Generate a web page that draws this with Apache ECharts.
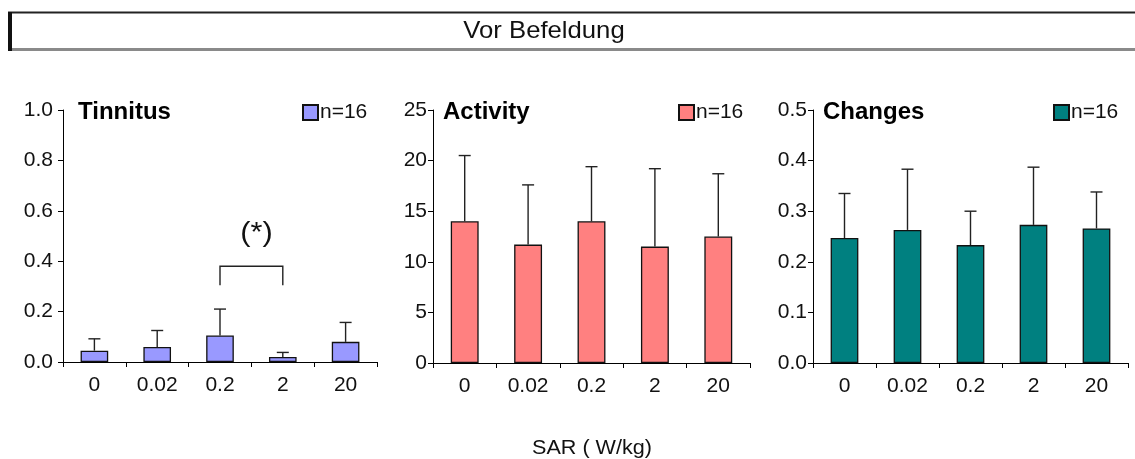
<!DOCTYPE html>
<html>
<head>
<meta charset="utf-8">
<script src="https://cdn.jsdelivr.net/npm/echarts@6/dist/echarts.min.js"></script>
<style>
  html, body { margin: 0; padding: 0; background: #fff; }
  #chart { width: 1135px; height: 459px; }
</style>
</head>
<body>
<div id="chart"></div>
<script>
// SAR exposure levels (W/kg)
const sarLevels = ['0', '0.02', '0.2', '2', '20'];

// Mean values and upper error bar ends (mean + SD), n = 16
const tinnitusMean  = [0.045, 0.06, 0.105, 0.02, 0.08];
const tinnitusUpper = [0.092, 0.125, 0.21, 0.038, 0.157];

const activityMean  = [14.0, 11.7, 14.0, 11.5, 12.5];
const activityUpper = [20.5, 17.6, 19.4, 19.2, 18.7];

const changesMean   = [0.247, 0.263, 0.233, 0.273, 0.266];
const changesUpper  = [0.335, 0.383, 0.300, 0.387, 0.338];

// y-axis ticks per panel
const tinnitusTicks = [0, 0.2, 0.4, 0.6, 0.8, 1.0];
const activityTicks = [0, 5, 10, 15, 20, 25];
const changesTicks  = [0, 0.1, 0.2, 0.3, 0.4, 0.5];

// Significance marker between 0.2 and 2 W/kg in the tinnitus panel
const sigFrom = '0.2';
const sigTo = '2';
const sigTop = 0.38;
const sigLeg = 0.305;
const sigLabel = '(*)';

const FONT = '"Liberation Sans", Arial, Helvetica, sans-serif';

const panels = [
  { name: 'Tinnitus', mean: tinnitusMean, upper: tinnitusUpper, ticks: tinnitusTicks, color: '#9999FF', digits: 1,
    grid: { left: 63, top: 110, width: 314, height: 252 }, legendLeft: 302, labelMargin: 10 },
  { name: 'Activity', mean: activityMean, upper: activityUpper, ticks: activityTicks, color: '#FF8080', digits: 0,
    grid: { left: 433, top: 110, width: 317, height: 253 }, legendLeft: 678, labelMargin: 6 },
  { name: 'Changes', mean: changesMean, upper: changesUpper, ticks: changesTicks, color: '#008080', digits: 1,
    grid: { left: 813, top: 110, width: 315, height: 253 }, legendLeft: 1053, labelMargin: 6 }
];

const grids = [], xAxes = [], yAxes = [], series = [], legends = [], titles = [];

panels.forEach((p, i) => {
  grids.push(Object.assign({ containLabel: false }, p.grid));
  xAxes.push({
    type: 'category', gridIndex: i, data: sarLevels,
    axisLine: { lineStyle: { color: '#000', width: 1 } },
    axisTick: { show: true, length: 5, lineStyle: { color: '#000' }, interval: 0 },
    axisLabel: { color: '#111', fontFamily: FONT, fontSize: 21, margin: 13, interval: 0 },
    splitLine: { show: false }
  });
  const t = p.ticks;
  yAxes.push({
    type: 'value', gridIndex: i, min: t[0], max: t[t.length - 1], interval: t[1] - t[0],
    axisLine: { show: true, lineStyle: { color: '#000', width: 1 } },
    axisTick: { show: true, length: 5, lineStyle: { color: '#000' } },
    axisLabel: { color: '#111', fontFamily: FONT, fontSize: 21, margin: p.labelMargin,
      formatter: v => v.toFixed(p.digits) },
    splitLine: { show: false }
  });
  series.push({
    name: p.name, type: 'bar', xAxisIndex: i, yAxisIndex: i,
    data: p.mean, barWidth: '44%',
    itemStyle: { color: p.color, borderColor: '#111', borderWidth: 1.3 },
    z: 2
  });
  // upward error bars with caps
  series.push({
    name: p.name + ' SD', type: 'custom', xAxisIndex: i, yAxisIndex: i,
    data: p.mean.map((m, k) => [k, m, p.upper[k]]),
    renderItem: (params, api) => {
      const base = api.coord([api.value(0), api.value(1)]);
      const top = api.coord([api.value(0), api.value(2)]);
      const cap = 6;
      const style = { stroke: '#222', lineWidth: 1.4 };
      return {
        type: 'group',
        children: [
          { type: 'line', shape: { x1: base[0], y1: base[1], x2: top[0], y2: top[1] }, style },
          { type: 'line', shape: { x1: top[0] - cap, y1: top[1], x2: top[0] + cap, y2: top[1] }, style }
        ]
      };
    },
    z: 1,
    silent: true
  });
  legends.push({
    data: [p.name],
    left: p.legendLeft,
    top: 102,
    padding: 0,
    itemWidth: 15, itemHeight: 15, itemGap: 0,
    icon: 'rect',
    formatter: () => 'n=16',
    textStyle: { fontFamily: FONT, fontSize: 21, color: '#111', padding: [0, 0, 0, -3] },
    selectedMode: false
  });
  titles.push({
    type: 'text',
    left: p.grid.left + (i === 0 ? 15 : 10),
    top: 100,
    style: { text: p.name, font: 'bold 24px ' + FONT, fill: '#000' }
  });
});

// significance bracket and label
series.push({
  type: 'custom', xAxisIndex: 0, yAxisIndex: 0,
  data: [[sarLevels.indexOf(sigFrom), sarLevels.indexOf(sigTo), sigTop, sigLeg]],
  renderItem: (params, api) => {
    const a = api.coord([api.value(0), api.value(2)]);
    const b = api.coord([api.value(1), api.value(2)]);
    const legY = api.coord([api.value(0), api.value(3)])[1];
    const style = { stroke: '#222', lineWidth: 1.4, fill: null };
    return {
      type: 'group',
      children: [
        { type: 'polyline', shape: { points: [[a[0], legY], [a[0], a[1]], [b[0], b[1]], [b[0], legY]] }, style },
        { type: 'text', x: (a[0] + b[0]) / 2 + 5, y: a[1] - 33, scaleX: 1.1,
          style: { text: sigLabel, font: '28px ' + FONT, fill: '#111', align: 'center', verticalAlign: 'middle' } }
      ]
    };
  },
  silent: true
});

const chart = echarts.init(document.getElementById('chart'), null, { renderer: 'canvas' });
chart.setOption({
  animation: false,
  backgroundColor: '#fff',
  grid: grids,
  xAxis: xAxes,
  yAxis: yAxes,
  legend: legends,
  series: series,
  graphic: [
    // heading box
    { type: 'rect', shape: { x: 8, y: 12, width: 1135, height: 38 }, style: { fill: '#fff' } },
    { type: 'line', shape: { x1: 8, y1: 12.5, x2: 1135, y2: 12.5 }, style: { stroke: '#222', lineWidth: 2 } },
    { type: 'line', shape: { x1: 8, y1: 49.5, x2: 1135, y2: 49.5 }, style: { stroke: '#8a8a8a', lineWidth: 3 } },
    { type: 'rect', shape: { x: 8, y: 12, width: 4, height: 39 }, style: { fill: '#111' } },
    { type: 'text', x: 544, y: 31, scaleX: 1.07,
      style: { text: 'Vor Befeldung', font: '24px ' + FONT, fill: '#111', align: 'center', verticalAlign: 'middle' } },
    // shared x-axis title
    { type: 'text', x: 592, y: 448, scaleX: 1.08,
      style: { text: 'SAR ( W/kg)', font: '20px ' + FONT, fill: '#111', align: 'center', verticalAlign: 'middle' } }
  ].concat(titles)
});
</script>
</body>
</html>
